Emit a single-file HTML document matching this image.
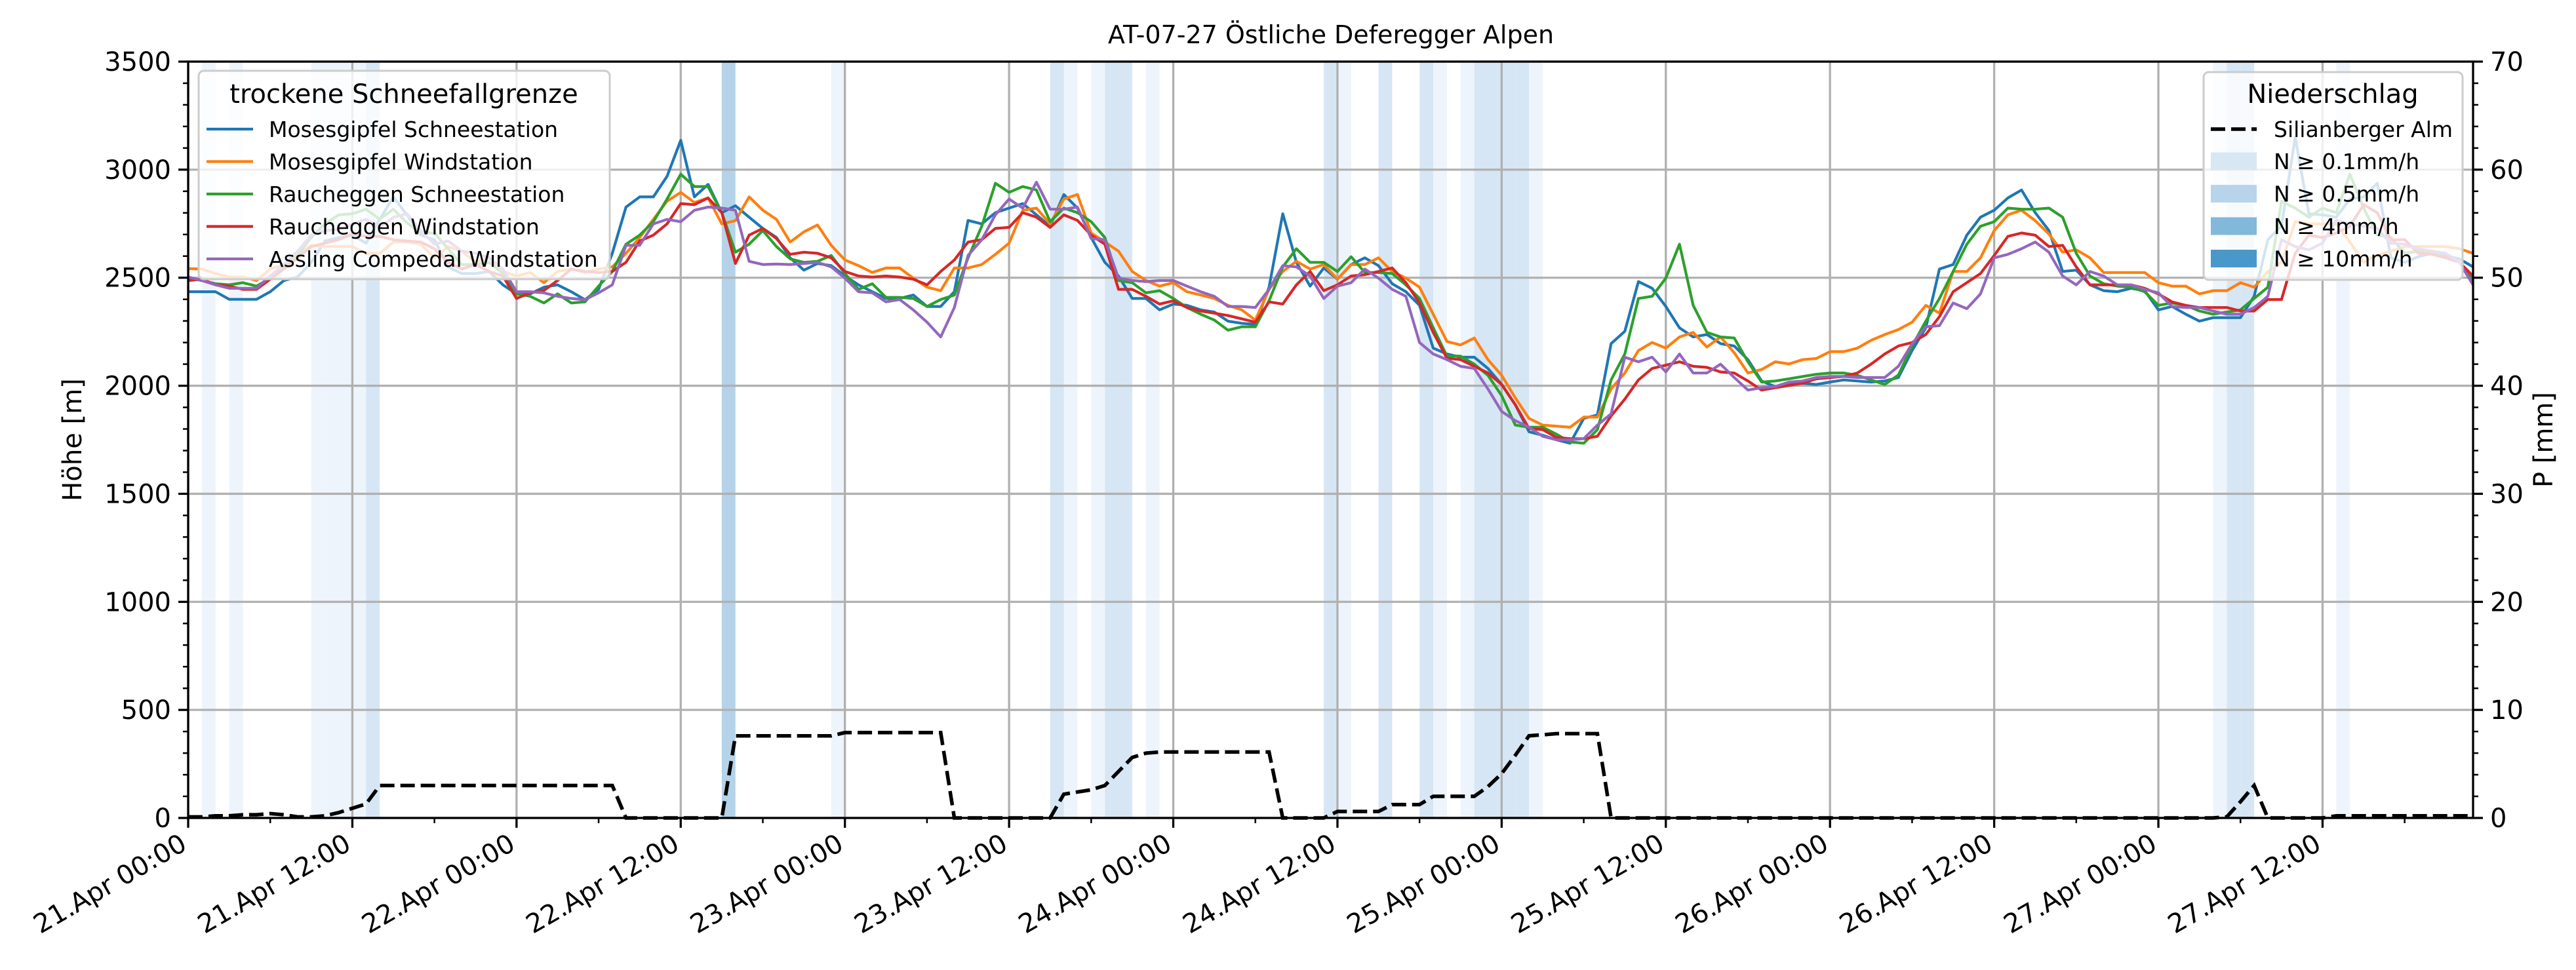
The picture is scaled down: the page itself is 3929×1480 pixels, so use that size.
<!DOCTYPE html>
<html><head><meta charset="utf-8"><style>
html,body{margin:0;padding:0;background:#fff;}
svg{display:block;font-family:"DejaVu Sans","Liberation Sans",sans-serif;}
</style></head><body>
<svg id="chart" width="3929" height="1480" viewBox="0 0 3929 1480" xmlns="http://www.w3.org/2000/svg">
<rect x="0" y="0" width="3929" height="1480" fill="#fff"/>
<g id="bands"></g>
<g id="grid"></g>
<g id="series"></g>
<g id="axes"></g>
<text x="2030" y="66" font-size="38" text-anchor="middle">AT-07-27 Östliche Deferegger Alpen</text>
<text transform="translate(124,671) rotate(-90)" font-size="40" text-anchor="middle">Höhe [m]</text>
<text transform="translate(3893,671) rotate(-90)" font-size="40" text-anchor="middle">P [mm]</text>
<g id="legend1">
<rect x="303" y="108" width="627" height="318" rx="8" fill="rgba(255,255,255,0.8)" stroke="#cccccc" stroke-width="3"/>
<text x="616" y="157" font-size="40" text-anchor="middle">trockene Schneefallgrenze</text>
</g>
<g id="legend2">
<rect x="3361" y="110" width="395" height="317" rx="8" fill="rgba(255,255,255,0.8)" stroke="#cccccc" stroke-width="3"/>
<text x="3558" y="157" font-size="40" text-anchor="middle">Niederschlag</text>
</g>
</svg>
<script>
const hours = Array.from({length:168},(_,i)=>i);
const s1 = [2435,2435,2435,2400,2400,2400,2435,2487,2503,2571,2670,2686,2697,2660,2770,2874,2790,2697,2676,2550,2519,2519,2529,2467,2425,2425,2456,2467,2435,2398,2446,2613,2827,2874,2874,2969,3136,2874,2932,2801,2833,2780,2728,2686,2592,2535,2566,2556,2508,2467,2435,2404,2404,2420,2367,2367,2435,2765,2749,2801,2822,2843,2791,2738,2885,2822,2686,2571,2508,2404,2404,2351,2378,2372,2351,2341,2299,2289,2284,2456,2796,2571,2461,2545,2493,2561,2592,2556,2472,2435,2372,2174,2147,2132,2132,2080,2006,1912,1787,1771,1750,1734,1849,1865,2195,2252,2482,2451,2367,2268,2226,2237,2195,2184,2121,2022,1996,2006,2012,2006,2017,2027,2022,2017,2022,2038,2163,2268,2540,2561,2697,2780,2812,2869,2906,2801,2718,2529,2535,2467,2440,2435,2451,2440,2351,2367,2331,2299,2315,2315,2315,2414,2676,2740,3150,2796,2791,2780,2864,2874,2937,2592,2571,2597,2613,2603,2587,2550];
const s2 = [2542,2540,2519,2503,2503,2487,2540,2561,2603,2650,2644,2644,2644,2613,2613,2665,2665,2655,2592,2644,2623,2571,2592,2529,2508,2524,2477,2529,2540,2524,2540,2550,2613,2686,2770,2854,2895,2848,2869,2749,2764,2874,2812,2770,2665,2712,2744,2650,2582,2556,2524,2545,2545,2498,2456,2440,2545,2545,2561,2608,2660,2812,2822,2749,2864,2885,2707,2665,2623,2529,2487,2461,2477,2435,2420,2404,2372,2351,2304,2446,2529,2576,2540,2561,2493,2561,2561,2592,2529,2498,2456,2331,2205,2189,2221,2121,2048,1944,1849,1818,1813,1808,1855,1855,1985,2059,2163,2200,2174,2226,2247,2179,2226,2153,2059,2075,2111,2101,2121,2126,2158,2158,2174,2210,2237,2260,2294,2372,2336,2529,2529,2592,2718,2791,2812,2764,2702,2618,2629,2592,2524,2524,2524,2524,2477,2461,2461,2425,2440,2440,2477,2456,2529,2571,2759,2749,2749,2749,2665,2571,2603,2623,2644,2644,2644,2644,2634,2613];
const s3 = [2498,2487,2472,2467,2477,2461,2498,2550,2603,2686,2749,2791,2796,2817,2770,2817,2754,2707,2707,2634,2561,2561,2571,2519,2425,2414,2383,2425,2383,2388,2461,2529,2655,2697,2759,2864,2979,2922,2922,2801,2618,2655,2718,2644,2587,2571,2576,2603,2519,2446,2472,2409,2409,2404,2367,2399,2420,2592,2738,2937,2895,2922,2906,2759,2822,2801,2759,2686,2487,2477,2430,2440,2404,2362,2331,2304,2257,2273,2273,2393,2550,2634,2571,2571,2529,2597,2524,2524,2519,2467,2404,2268,2137,2137,2100,2048,1954,1818,1808,1808,1776,1740,1734,1797,2027,2147,2404,2414,2498,2655,2372,2247,2226,2221,2111,2017,2022,2032,2043,2053,2059,2059,2048,2027,2006,2050,2184,2299,2404,2529,2655,2738,2759,2822,2817,2817,2822,2780,2613,2508,2472,2461,2456,2435,2372,2383,2372,2346,2331,2341,2351,2404,2456,2854,2822,2780,2822,2801,2979,2822,2697,2686,2613,2623,2613,2592,2571,2487];
const s4 = [2487,2493,2467,2461,2446,2446,2493,2540,2592,2644,2660,2676,2702,2691,2691,2676,2670,2665,2634,2571,2540,2561,2529,2508,2404,2430,2441,2487,2540,2529,2524,2529,2571,2670,2697,2749,2843,2838,2869,2801,2566,2697,2728,2681,2608,2618,2613,2592,2529,2508,2503,2508,2503,2493,2467,2529,2582,2665,2676,2728,2733,2801,2780,2733,2791,2765,2697,2655,2446,2446,2414,2378,2393,2362,2346,2336,2325,2310,2294,2388,2378,2467,2529,2440,2467,2508,2514,2529,2545,2477,2383,2247,2127,2121,2090,2059,2006,1912,1802,1797,1761,1755,1755,1766,1860,1938,2027,2080,2095,2111,2090,2085,2064,2059,2022,1980,1991,2001,2012,2032,2038,2043,2059,2100,2147,2184,2200,2237,2320,2435,2477,2519,2603,2691,2707,2697,2644,2650,2550,2467,2467,2467,2467,2451,2425,2388,2372,2362,2362,2362,2346,2346,2399,2399,2613,2697,2686,2707,2738,2838,2801,2676,2676,2613,2608,2592,2571,2508];
const s5 = [2503,2487,2467,2451,2451,2451,2508,2561,2623,2697,2718,2723,2749,2770,2733,2780,2796,2718,2655,2670,2623,2613,2592,2540,2435,2435,2430,2414,2404,2398,2430,2467,2650,2650,2749,2770,2759,2812,2827,2822,2812,2576,2561,2563,2561,2566,2571,2550,2498,2435,2430,2388,2399,2351,2294,2226,2362,2603,2676,2791,2864,2822,2942,2817,2817,2827,2681,2676,2498,2487,2482,2487,2487,2461,2435,2414,2367,2367,2362,2446,2556,2550,2508,2404,2461,2477,2540,2498,2446,2414,2200,2147,2121,2090,2080,1985,1881,1839,1808,1766,1750,1750,1755,1818,1870,2132,2111,2132,2064,2147,2059,2059,2100,2038,1980,1991,1996,2017,2022,2038,2043,2043,2038,2038,2038,2090,2195,2273,2278,2383,2357,2425,2592,2608,2634,2665,2618,2508,2467,2529,2508,2467,2467,2446,2430,2367,2362,2362,2346,2331,2331,2362,2414,2676,2644,2629,2660,2765,2749,2738,2728,2660,2655,2634,2623,2613,2571,2467];
const precip = [
0.1,0.1,0.2,0.2,0.3,0.3,0.4,0.3,0.1,0.1,
0.2,0.5,0.9,1.3,3.0,3.0,3.0,3.0,3.0,3.0,
3.0,3.0,3.0,3.0,3.0,3.0,3.0,3.0,3.0,3.0,
3.0,3.0,0,0,0,0,0,0,0,0,
7.6,7.6,7.6,7.6,7.6,7.6,7.6,7.6,7.9,7.9,
7.9,7.9,7.9,7.9,7.9,7.9,0,0,0,0,
0,0,0,0,2.2,2.4,2.6,3.0,4.3,5.6,
6.0,6.1,6.1,6.1,6.1,6.1,6.1,6.1,6.1,6.1,
0,0,0,0,0.6,0.6,0.6,0.6,1.24,1.24,
1.24,2.0,2.0,2.0,2.0,2.9,4.1,5.8,7.6,7.7,
7.8,7.8,7.8,7.8,0,0,0,0,0,0,
0,0,0,0,0,0,0,0,0,0,
0,0,0,0,0,0,0,0,0,0,
0,0,0,0,0,0,0,0,0,0,
0,0,0,0,0,0,0,0,0,0.1,
1.5,3.0,0,0,0,0,0,0.2,0.2,0.2,
0.2,0.2,0.2,0.2,0.2,0.2,0.2,0.2];
const bandHours = [1,3,9,10,11,12,13,39,47,63,64,66,67,68,70,83,84,87,90,91,93,94,95,96,97,98,148,149,150,157];
const bandClass = [1,1,1,1,1,1,2,3,1,2,1,1,2,2,1,2,1,2,2,1,1,2,2,2,2,1,1,2,2,1];
const yTicks = [0,500,1000,1500,2000,2500,3000,3500];
const y2Ticks = [0,10,20,30,40,50,60,70];
const xTickLabels = ["21.Apr 00:00","21.Apr 12:00","22.Apr 00:00","22.Apr 12:00","23.Apr 00:00","23.Apr 12:00","24.Apr 00:00","24.Apr 12:00","25.Apr 00:00","25.Apr 12:00","26.Apr 00:00","26.Apr 12:00","27.Apr 00:00","27.Apr 12:00"];
const seriesNames = ["Mosesgipfel Schneestation","Mosesgipfel Windstation","Raucheggen Schneestation","Raucheggen Windstation","Assling Compedal Windstation"];

const NS="http://www.w3.org/2000/svg";
const L=287,R=3772,T=94,B=1248, HMAX=167;
const X=h=>L+h*(R-L)/HMAX;
const Y=v=>B-v*(B-T)/3500;
const Y2=p=>B-p*(B-T)/70;
const colors=["#1f77b4","#ff7f0e","#2ca02c","#d62728","#9467bd"];
const bandColors={1:"#eef4fb",2:"#d6e6f4",3:"#b4d3e9"};
function mk(tag,attrs,parent){const e=document.createElementNS(NS,tag);for(const k in attrs)e.setAttribute(k,attrs[k]);parent.appendChild(e);return e;}
const gB=document.getElementById('bands'),gG=document.getElementById('grid'),gS=document.getElementById('series'),gA=document.getElementById('axes');
bandHours.forEach((h,i)=>{
  const r=mk('rect',{x:X(h),y:T,width:X(h+1)-X(h),height:B-T,fill:bandColors[bandClass[i]]},gB);
  
  
});
xTickLabels.forEach((lab,i)=>{
  const x=X(i*12);
  const l=mk('line',{x1:x,y1:T,x2:x,y2:B,stroke:"#b0b0b0","stroke-width":3.3},gG);
  
  
});
yTicks.forEach(v=>{
  const l=mk('line',{x1:L,y1:Y(v),x2:R,y2:Y(v),stroke:"#b0b0b0","stroke-width":3.3},gG);
  
  
});
[s1,s2,s3,s4,s5].forEach((s,k)=>{
  const d=s.map((v,i)=>(i?'L':'M')+X(hours[i]).toFixed(1)+' '+Y(v).toFixed(1)).join(' ');
  const p=mk('path',{d:d,fill:"none",stroke:colors[k],"stroke-width":4.2,"stroke-linejoin":"round"},gS);
  
  
});
{
  const d=precip.map((v,i)=>(i?'L':'M')+X(hours[i]).toFixed(1)+' '+Y2(v).toFixed(1)).join(' ');
  const p=mk('path',{d:d,fill:"none",stroke:"#000","stroke-width":5.5,"stroke-dasharray":"22,9"},gS);
  
  
}
const fr=mk('rect',{x:L,y:T,width:R-L,height:B-T,fill:"none",stroke:"#000","stroke-width":3.3},gA);


yTicks.forEach(v=>{
  const t=mk('line',{x1:L-15,y1:Y(v),x2:L,y2:Y(v),stroke:"#000","stroke-width":3.3},gA);
  
  
  const tx=mk('text',{x:L-26,y:Y(v)+14,"font-size":40,"text-anchor":"end"},gA);
  tx.textContent=v;
  
  
});
for(let v=100;v<3500;v+=100){ if(v%500===0)continue;
  const t=mk('line',{x1:L-8,y1:Y(v),x2:L,y2:Y(v),stroke:"#000","stroke-width":2.5},gA);
  
  
}
y2Ticks.forEach(v=>{
  const t=mk('line',{x1:R,y1:Y2(v),x2:R+15,y2:Y2(v),stroke:"#000","stroke-width":3.3},gA);
  
  
  const tx=mk('text',{x:R+26,y:Y2(v)+14,"font-size":40,"text-anchor":"start"},gA);
  tx.textContent=v;
  
  
});
for(let v=2;v<70;v+=2){ if(v%10===0)continue;
  const t=mk('line',{x1:R,y1:Y2(v),x2:R+8,y2:Y2(v),stroke:"#000","stroke-width":2.5},gA);
  
  
}
xTickLabels.forEach((lab,i)=>{
  const x=X(i*12);
  const t=mk('line',{x1:x,y1:B,x2:x,y2:B+15,stroke:"#000","stroke-width":3.3},gA);
  
  
  const m=mk('line',{x1:X(i*12+6),y1:B,x2:X(i*12+6),y2:B+8,stroke:"#000","stroke-width":2.5},gA);
  
  
  const tx=mk('text',{transform:`translate(${x-14},${B+22}) rotate(-30)`,"font-size":40,"text-anchor":"end",dy:"0.72em"},gA);
  tx.textContent=lab;
  
  
});
const lg1=document.getElementById('legend1');
seriesNames.forEach((n,k)=>{
  const y=197+k*49.5;
  const l=mk('line',{x1:315,y1:y,x2:386,y2:y,stroke:colors[k],"stroke-width":4.2},lg1);
  
  
  const t=mk('text',{x:410,y:y+12,"font-size":33},lg1);
  t.textContent=n;
  
  
});
const lg2=document.getElementById('legend2');
{
  const l=mk('line',{x1:3372,y1:197,x2:3442,y2:197,stroke:"#000","stroke-width":5.5,"stroke-dasharray":"22,9"},lg2);
  
  
  const t=mk('text',{x:3468,y:209,"font-size":33},lg2);
  t.textContent="Silianberger Alm";
  
  
}
const pLabels=["N ≥ 0.1mm/h","N ≥ 0.5mm/h","N ≥ 4mm/h","N ≥ 10mm/h"];
const pColors=["#d7e7f4","#b8d4ea","#82b8da","#4a98c9"];
pLabels.forEach((n,k)=>{
  const y=246+k*49.5;
  const r=mk('rect',{x:3372,y:y-13.5,width:70,height:27,fill:pColors[k]},lg2);
  
  
  const t=mk('text',{x:3468,y:y+12,"font-size":33},lg2);
  t.textContent=n;
  
  
});
</script>
</body></html>
